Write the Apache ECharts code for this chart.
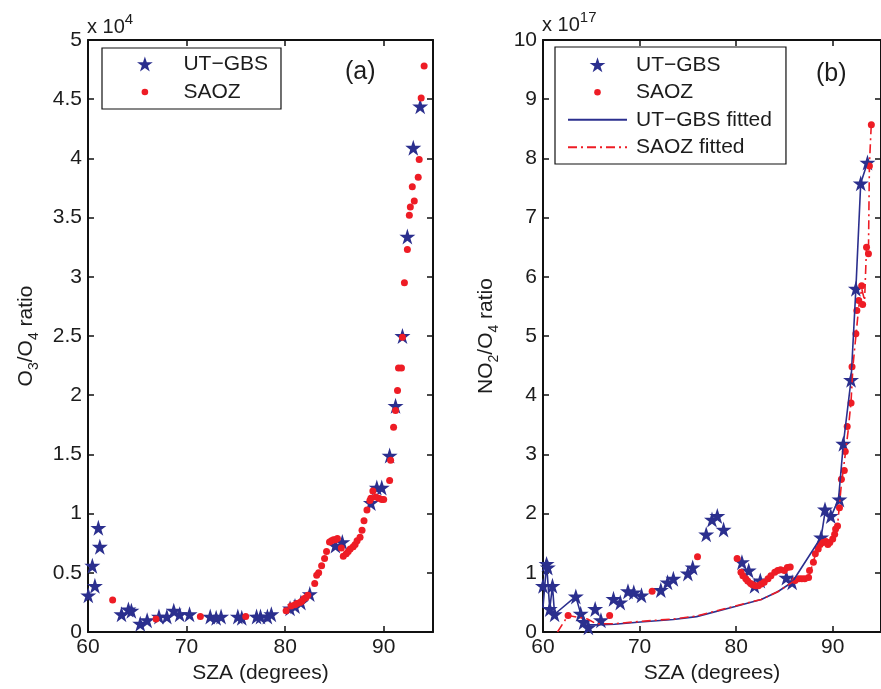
<!DOCTYPE html>
<html>
<head>
<meta charset="utf-8">
<script src="https://cdn.jsdelivr.net/npm/echarts@6/dist/echarts.min.js"></script>
<style>
html,body{margin:0;padding:0;background:#fff;}
#chart{width:881px;height:689px;}
</style>
</head>
<body>
<div id="chart"></div>
<script>
// ---------------- DATA ----------------
// Panel (a): O3/O4 ratio (x 10^4)
const aStarX = [60.03,60.44,60.7,61.05,61.2,63.4,64.1,64.4,65.3,66.0,67.2,68.0,68.7,69.3,70.3,72.4,73.0,73.5,75.2,75.6,77.1,77.5,78.2,78.6,80.5,81.0,81.6,82.5,85.1,85.8,88.7,89.3,89.8,90.6,91.2,91.9,92.4,93.0,93.7];
const aStarY = [0.31,0.56,0.39,0.88,0.72,0.15,0.19,0.18,0.07,0.10,0.13,0.13,0.18,0.15,0.15,0.13,0.12,0.13,0.13,0.12,0.13,0.13,0.13,0.15,0.20,0.22,0.25,0.32,0.73,0.76,1.09,1.22,1.22,1.49,1.91,2.50,3.34,4.09,4.44];
const aDotX = [62.5,66.9,71.4,76.0,80.1,80.6,81.0,81.2,81.5,81.7,81.9,82.1,82.3,83.0,83.2,83.4,83.7,84.0,84.2,84.5,84.7,84.9,85.1,85.3,85.7,85.9,86.2,86.4,86.6,86.9,87.1,87.3,87.6,87.8,88.0,88.3,88.6,88.7,88.9,89.2,89.5,89.8,90.0,90.6,90.7,91.0,91.2,91.4,91.5,91.8,91.9,92.1,92.4,92.6,92.7,92.9,93.1,93.5,93.6,93.8,94.1];
const aDotY = [0.27,0.11,0.13,0.13,0.18,0.22,0.23,0.24,0.25,0.26,0.28,0.29,0.31,0.41,0.48,0.50,0.56,0.62,0.68,0.76,0.77,0.78,0.78,0.79,0.71,0.64,0.66,0.68,0.70,0.72,0.74,0.77,0.80,0.86,0.94,1.03,1.11,1.13,1.19,1.14,1.13,1.12,1.12,1.28,1.45,1.73,1.87,2.04,2.23,2.23,2.49,2.95,3.23,3.52,3.59,3.76,3.64,3.84,3.99,4.51,4.78];

// Panel (b): NO2/O4 ratio (x 10^17)
const bStarX = [60.0,60.37,60.5,60.7,60.98,61.2,63.4,63.9,64.2,64.7,65.4,66.0,67.3,68.0,68.8,69.4,70.2,72.2,72.9,73.5,75.0,75.5,76.9,77.5,78.05,78.7,80.6,81.3,81.9,82.5,85.2,85.8,88.8,89.2,89.8,90.7,91.1,91.9,92.4,92.9,93.6];
const bStarY = [0.78,1.15,1.09,0.39,0.78,0.30,0.60,0.31,0.17,0.08,0.39,0.20,0.56,0.50,0.69,0.67,0.62,0.71,0.84,0.90,0.99,1.09,1.65,1.90,1.96,1.73,1.18,1.04,0.78,0.87,0.92,0.84,1.60,2.07,1.96,2.24,3.18,4.26,5.80,7.58,7.93];
const bDotX = [62.6,66.9,71.3,76.0,80.1,80.5,80.7,81.0,81.2,81.5,81.7,82.0,82.3,82.6,82.9,83.3,83.6,84.0,84.3,84.6,85.0,85.3,85.6,86.1,86.5,86.8,87.1,87.5,87.6,88.0,88.2,88.5,88.7,89.0,89.3,89.5,89.7,90.0,90.2,90.3,90.5,90.7,90.9,91.2,91.3,91.5,91.9,92.0,92.4,92.5,92.7,93.0,93.1,93.5,93.7,93.8,94.0];
const bDotY = [0.28,0.28,0.69,1.27,1.24,1.01,0.95,0.90,0.86,0.82,0.80,0.78,0.78,0.81,0.84,0.90,0.95,1.01,1.04,1.05,1.04,1.09,1.10,0.87,0.90,0.90,0.90,0.92,1.04,1.18,1.32,1.40,1.48,1.51,1.53,1.48,1.51,1.57,1.65,1.74,1.79,2.10,2.58,2.73,3.05,3.47,3.87,4.48,5.04,5.43,5.60,5.85,5.53,6.50,6.39,7.87,8.57];
const bFitGX = [60.0,60.37,60.7,60.98,61.2,63.4,63.9,64.7,65.5,67.4,70.1,73.5,75.9,79.9,82.6,84.3,85.8,88.8,89.2,89.8,90.6,91.1,91.9,92.4,92.9,93.6];
const bFitGY = [0.42,1.15,0.39,0.78,0.30,0.60,0.31,0.12,0.12,0.13,0.17,0.21,0.26,0.43,0.55,0.68,0.84,1.60,2.02,1.94,2.24,3.18,4.26,5.80,7.58,7.93];
const bFitSX = [61.5,62.6,63.6,64.6,65.5,67.4,70.1,73.5,75.9,79.9,82.6,84.3,86.0,87.5,88.2,89.0,90.0,90.5,90.9,91.3,91.6,91.9,92.1,92.4,92.7,93.0,93.3,93.5,93.7,93.8,94.0];
const bFitSY = [0.0,0.28,0.25,0.22,0.14,0.14,0.18,0.22,0.27,0.44,0.55,0.68,0.86,0.92,1.30,1.50,1.60,1.80,2.50,3.00,3.40,3.90,4.50,5.00,5.50,5.80,5.60,6.50,6.40,7.90,8.60];

const xTicks = [60,70,80,90];
const seriesNames = ['UT\u2212GBS','SAOZ','UT\u2212GBS fitted','SAOZ fitted'];
const panelTags = ['(a)','(b)'];
const yNames = ['{n|O}{s|3}{n|/O}{s|4}{n| ratio}','{n|NO}{s|2}{n|/O}{s|4}{n| ratio}'];
const exponents = ['4','17'];

// ---------------- STYLE ----------------
const FONT = "'Liberation Sans', Arial, Helvetica, sans-serif";
const NAVY = '#2b2f8e';
const RED = '#ee1c25';
const TXT = '#1c1c1c';
const STAR = 'path://M50,0 L61.23,34.55 L97.55,34.55 L68.17,55.9 L79.39,90.45 L50,69.1 L20.61,90.45 L31.83,55.9 L2.45,34.55 L38.77,34.55 Z';
const DOTICON = 'path://M0,0 M15,15 M10.8,7.5 A3.3,3.3 0 1 1 4.2,7.5 A3.3,3.3 0 1 1 10.8,7.5 Z';

function zip(xs, ys){ return xs.map((x,i)=>[x, ys[i]]); }

const axLine = {show:true, onZero:false, lineStyle:{color:'#111', width:2}};
function xAx(grid, top, showName){
  return {
    type:'value', gridIndex:grid, position: top ? 'top' : 'bottom',
    min:60, max:95, interval:10,
    axisLine: axLine,
    axisTick:{show:true, inside:true, length:6, customValues:xTicks, lineStyle:{color:'#111', width:1.5}},
    axisLabel:{show:!top, customValues:xTicks, fontSize:21, fontFamily:FONT, color:TXT, margin:5},
    splitLine:{show:false},
    name: showName ? 'SZA (degrees)' : '',
    nameLocation:'middle', nameGap:31,
    nameTextStyle:{fontSize:21, fontFamily:FONT, color:TXT}
  };
}
function yAx(grid, right, max, interval, name, gap){
  const s = {fontFamily:FONT, color:TXT};
  return {
    type:'value', gridIndex:grid, position: right ? 'right' : 'left',
    min:0, max:max, interval:interval,
    axisLine: axLine,
    axisTick:{show:true, inside:true, length:6, lineStyle:{color:'#111', width:1.5}},
    axisLabel:{show:!right, fontSize:21, fontFamily:FONT, color:TXT, margin:6},
    splitLine:{show:false},
    name: right ? '' : name,
    nameLocation:'middle', nameGap:gap,
    nameTextStyle:{fontSize:21, fontFamily:FONT, color:TXT,
      rich:{ n:Object.assign({fontSize:21, lineHeight:30}, s),
             s:Object.assign({fontSize:14, lineHeight:14, verticalAlign:'bottom'}, s)}}
  };
}

const option = {
  animation:false,
  backgroundColor:'#fff',
  grid:[
    {left:88, top:40, width:345, height:595},
    {left:543, top:40, width:346, height:595}
  ],
  xAxis:[ xAx(0,false,true), xAx(0,true,false), xAx(1,false,true), xAx(1,true,false) ],
  yAxis:[ yAx(0,false,5,0.5,yNames[0],47), yAx(0,true,5,0.5,'',0),
          yAx(1,false,10,1,yNames[1],42), yAx(1,true,10,1,'',0) ],
  legend:[
    {orient:'vertical', left:102, top:48, itemWidth:59, itemHeight:15, itemGap:0,
     padding:[2,13,3,35], borderColor:'#111', borderWidth:1.2, backgroundColor:'#fff',
     selectedMode:false,
     textStyle:{fontSize:21, fontFamily:FONT, color:TXT, lineHeight:28, padding:[0,0,0,4]},
     data:[{name:seriesNames[0], icon:STAR},{name:seriesNames[1], icon:DOTICON}]},
    {orient:'vertical', left:555, top:47, itemWidth:59, itemHeight:15, itemGap:0,
     padding:[4,14,3,12], borderColor:'#111', borderWidth:1.2, backgroundColor:'#fff',
     selectedMode:false,
     textStyle:{fontSize:21, fontFamily:FONT, color:TXT, lineHeight:27.5, padding:[0,0,0,4]},
     data:[{name:seriesNames[0], icon:STAR},{name:seriesNames[1], icon:DOTICON},
           {name:seriesNames[2], itemStyle:{opacity:0}},{name:seriesNames[3], itemStyle:{opacity:0}}]}
  ],
  graphic:[
    {type:'text', left:345, top:60, style:{text:panelTags[0], fontSize:25, fontFamily:FONT, fill:TXT}},
    {type:'text', left:816, top:62, style:{text:panelTags[1], fontSize:25, fontFamily:FONT, fill:TXT}},
    {type:'text', left:87, top:12, style:{text:'{a|x 10}{b|'+exponents[0]+'}',
      rich:{a:{fontSize:20, lineHeight:30, fontFamily:FONT, fill:TXT},
            b:{fontSize:15, lineHeight:15, verticalAlign:'top', fontFamily:FONT, fill:TXT}}}},
    {type:'text', left:542, top:10, style:{text:'{a|x 10}{b|'+exponents[1]+'}',
      rich:{a:{fontSize:20, lineHeight:30, fontFamily:FONT, fill:TXT},
            b:{fontSize:15, lineHeight:15, verticalAlign:'top', fontFamily:FONT, fill:TXT}}}}
  ],
  series:[
    {name:seriesNames[0], type:'scatter', xAxisIndex:0, yAxisIndex:0, symbol:STAR, symbolSize:16,
     itemStyle:{color:NAVY, opacity:1}, data:zip(aStarX,aStarY), z:2},
    {name:seriesNames[1], type:'scatter', xAxisIndex:0, yAxisIndex:0, symbol:'circle', symbolSize:7,
     itemStyle:{color:RED, opacity:1}, data:zip(aDotX,aDotY), z:3},
    {name:seriesNames[0], type:'scatter', xAxisIndex:2, yAxisIndex:2, symbol:STAR, symbolSize:16,
     itemStyle:{color:NAVY, opacity:1}, data:zip(bStarX,bStarY), z:2},
    {name:seriesNames[1], type:'scatter', xAxisIndex:2, yAxisIndex:2, symbol:'circle', symbolSize:7,
     itemStyle:{color:RED, opacity:1}, data:zip(bDotX,bDotY), z:3},
    {name:seriesNames[2], type:'line', xAxisIndex:2, yAxisIndex:2, symbol:'none', clip:true,
     lineStyle:{color:NAVY, width:1.6}, itemStyle:{color:NAVY}, data:zip(bFitGX,bFitGY), z:4},
    {name:seriesNames[3], type:'line', xAxisIndex:2, yAxisIndex:2, symbol:'none', clip:true,
     lineStyle:{color:RED, width:1.6, type:[9,4,2,4]}, itemStyle:{color:RED}, data:zip(bFitSX,bFitSY), z:5}
  ]
};

const chart = echarts.init(document.getElementById('chart'), null, {renderer:'canvas'});
chart.setOption(option);
</script>
</body>
</html>
